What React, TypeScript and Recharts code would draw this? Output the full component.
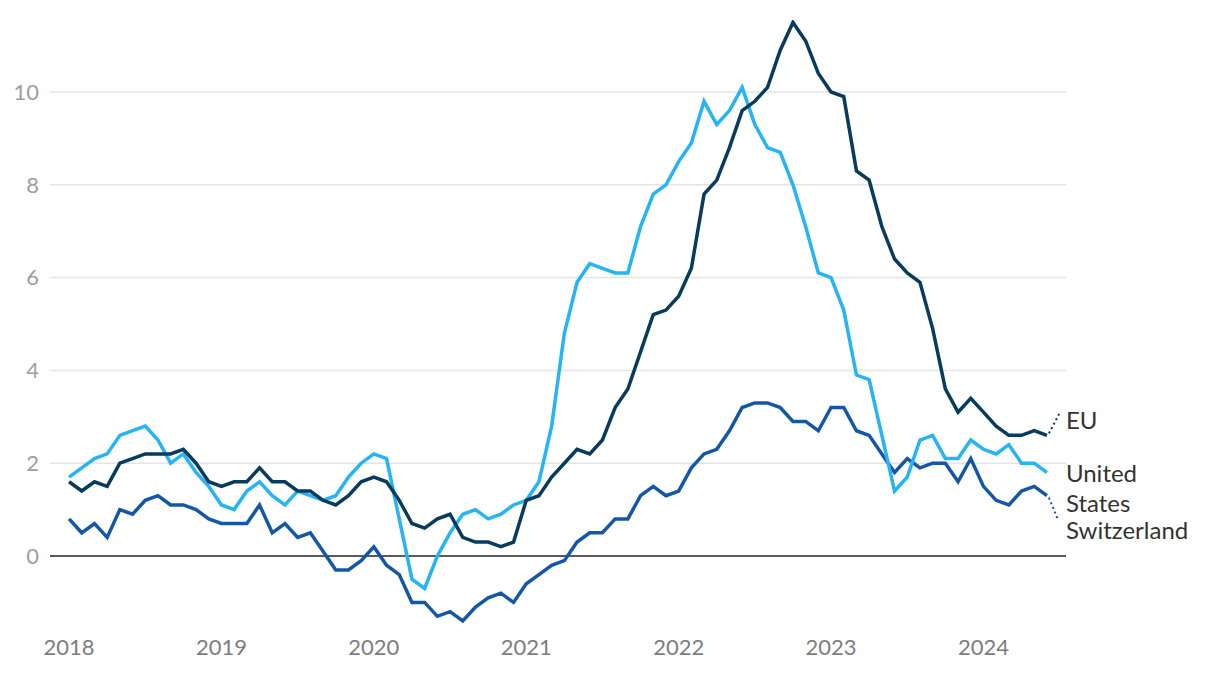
import { LineChart, Line, XAxis, YAxis, CartesianGrid, ReferenceLine } from 'recharts'

// monthly inflation, Jan 2018 – Jun 2024 (% y/y)
const startYear = 2018
const yearTicks = [0, 12, 24, 36, 48, 60, 72]
const valueTicks = [0, 2, 4, 6, 8, 10]

const eu = [
  1.6, 1.4, 1.6, 1.5, 2.0, 2.1, 2.2, 2.2, 2.2, 2.3, 2.0, 1.6,
  1.5, 1.6, 1.6, 1.9, 1.6, 1.6, 1.4, 1.4, 1.2, 1.1, 1.3, 1.6,
  1.7, 1.6, 1.2, 0.7, 0.6, 0.8, 0.9, 0.4, 0.3, 0.3, 0.2, 0.3,
  1.2, 1.3, 1.7, 2.0, 2.3, 2.2, 2.5, 3.2, 3.6, 4.4, 5.2, 5.3,
  5.6, 6.2, 7.8, 8.1, 8.8, 9.6, 9.8, 10.1, 10.9, 11.5, 11.1, 10.4,
  10.0, 9.9, 8.3, 8.1, 7.1, 6.4, 6.1, 5.9, 4.9, 3.6, 3.1, 3.4,
  3.1, 2.8, 2.6, 2.6, 2.7, 2.6,
]

const us = [
  1.7, 1.9, 2.1, 2.2, 2.6, 2.7, 2.8, 2.5, 2.0, 2.2, 1.8, 1.5,
  1.1, 1.0, 1.4, 1.6, 1.3, 1.1, 1.4, 1.3, 1.2, 1.3, 1.7, 2.0,
  2.2, 2.1, 0.8, -0.5, -0.7, 0.0, 0.5, 0.9, 1.0, 0.8, 0.9, 1.1,
  1.2, 1.6, 2.8, 4.8, 5.9, 6.3, 6.2, 6.1, 6.1, 7.1, 7.8, 8.0,
  8.5, 8.9, 9.8, 9.3, 9.6, 10.1, 9.3, 8.8, 8.7, 8.0, 7.1, 6.1,
  6.0, 5.3, 3.9, 3.8, 2.6, 1.4, 1.7, 2.5, 2.6, 2.1, 2.1, 2.5,
  2.3, 2.2, 2.4, 2.0, 2.0, 1.8,
]

const switzerland = [
  0.8, 0.5, 0.7, 0.4, 1.0, 0.9, 1.2, 1.3, 1.1, 1.1, 1.0, 0.8,
  0.7, 0.7, 0.7, 1.1, 0.5, 0.7, 0.4, 0.5, 0.1, -0.3, -0.3, -0.1,
  0.2, -0.2, -0.4, -1.0, -1.0, -1.3, -1.2, -1.4, -1.1, -0.9, -0.8, -1.0,
  -0.6, -0.4, -0.2, -0.1, 0.3, 0.5, 0.5, 0.8, 0.8, 1.3, 1.5, 1.3,
  1.4, 1.9, 2.2, 2.3, 2.7, 3.2, 3.3, 3.3, 3.2, 2.9, 2.9, 2.7,
  3.2, 3.2, 2.7, 2.6, 2.2, 1.8, 2.1, 1.9, 2.0, 2.0, 1.6, 2.1,
  1.5, 1.2, 1.1, 1.4, 1.5, 1.3,
]

const data = eu.map((v, i) => ({ i, eu: v, us: us[i], ch: switzerland[i] }))

const COLORS = { eu: '#083b5c', us: '#25b4f6', ch: '#1357a6' }
const FONT = 'Lato, "Open Sans", sans-serif'
const lastIndex = eu.length - 1

// end-of-line label, optionally with a dotted leader from the last point
function endLabel(lines: string[], textDy: number, color: string, lead?: [number, number]) {
  return (props: any) => {
    if (props.index !== lastIndex) return null
    const { x, y } = props
    return (
      <g>
        {lead && (
          <line
            x1={x + 2} y1={y + Math.sign(lead[1]) * 2}
            x2={x + lead[0]} y2={y + lead[1]}
            stroke={color} strokeWidth={2} strokeDasharray="2 3"
          />
        )}
        {lines.map((t, k) => (
          <text
            key={k}
            x={x + 19}
            y={y + textDy + k * 30}
            dominantBaseline="central"
            fontSize={24}
            fontFamily={FONT}
            fill="#333"
          >
            {t}
          </text>
        ))}
      </g>
    )
  }
}

export default function App() {
  return (
    <LineChart
      width={1212}
      height={666}
      data={data}
      margin={{ top: 12, right: 154, left: 0, bottom: 0 }}
    >
      <CartesianGrid
        vertical={false}
        horizontalValues={valueTicks.filter((v) => v !== 0)}
        stroke="#e4e4e4"
        strokeWidth={1.5}
      />
      <XAxis
        type="number"
        dataKey="i"
        domain={[-1.5, 78.5]}
        ticks={yearTicks}
        tickFormatter={(v) => String(startYear + v / 12)}
        axisLine={false}
        tickLine={false}
        tickSize={0}
        tickMargin={9}
        height={44}
        tick={{ fontSize: 22, fill: '#7d7d7d', fontFamily: FONT }}
      />
      <YAxis
        domain={[-1.595, 11.552]}
        allowDataOverflow
        ticks={valueTicks}
        axisLine={false}
        tickLine={false}
        tickSize={0}
        tickMargin={11}
        width={42}
        tick={{ fontSize: 22, fill: '#9e9e9e', fontFamily: FONT }}
      />
      <ReferenceLine y={0} stroke="#222" strokeWidth={1.5} />
      <Line
        dataKey="ch"
        stroke={COLORS.ch}
        strokeWidth={3.5}
        dot={false}
        isAnimationActive={false}
        label={endLabel(['Switzerland'], 34, COLORS.ch, [11, 24])}
      />
      <Line
        dataKey="us"
        stroke={COLORS.us}
        strokeWidth={3.5}
        dot={false}
        isAnimationActive={false}
        label={endLabel(['United', 'States'], 0, COLORS.us)}
      />
      <Line
        dataKey="eu"
        stroke={COLORS.eu}
        strokeWidth={3.5}
        dot={false}
        isAnimationActive={false}
        label={endLabel(['EU'], -16, COLORS.eu, [13, -23])}
      />
    </LineChart>
  )
}
